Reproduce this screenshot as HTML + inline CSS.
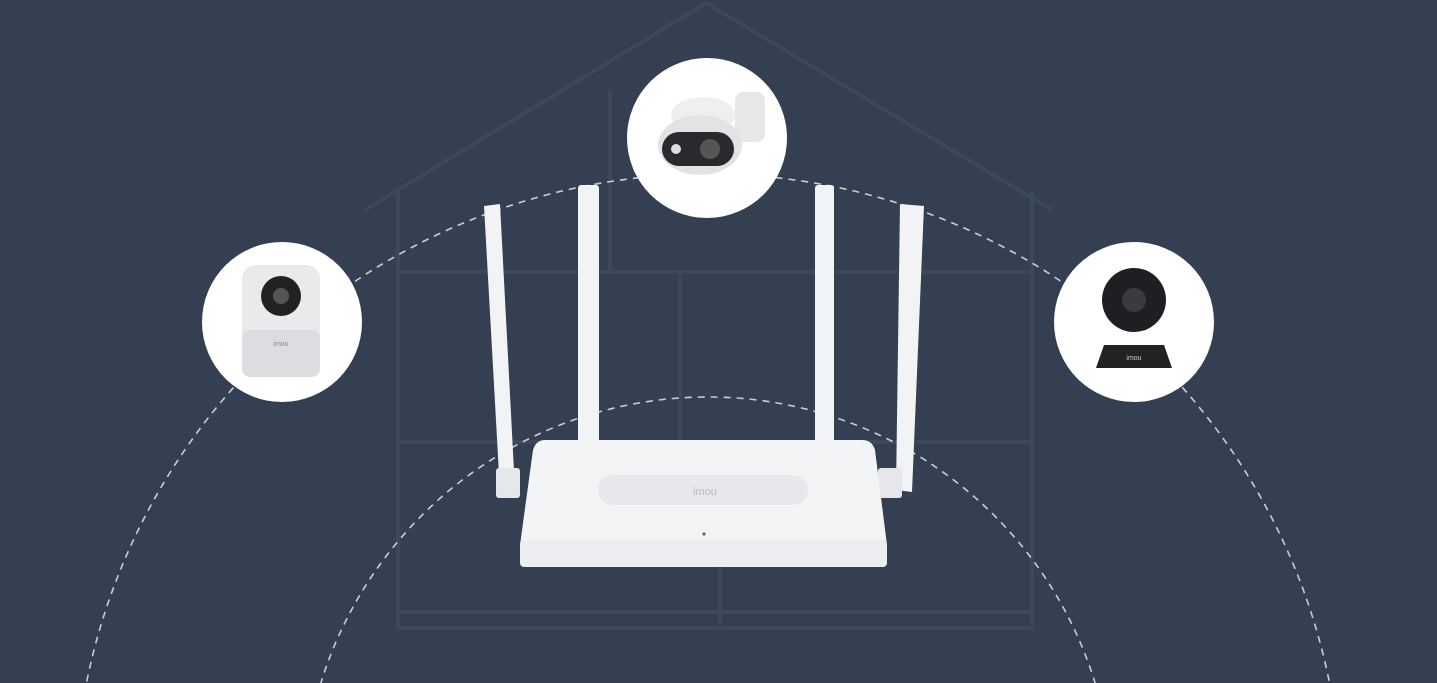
<!DOCTYPE html>
<html><head><meta charset="utf-8"><style>
html,body{margin:0;padding:0;background:#343f51;width:1437px;height:683px;overflow:hidden;}
svg{display:block}
</style></head><body>
<svg width="1437" height="683" viewBox="0 0 1437 683" xmlns="http://www.w3.org/2000/svg">
<rect width="1437" height="683" fill="#343f51"/>
<g stroke="#3c485c" stroke-width="4" fill="none">
<polyline points="365,210 706,3 1052,210"/>
<line x1="398" y1="190" x2="398" y2="630"/>
<line x1="1032" y1="190" x2="1032" y2="630"/>
<line x1="398" y1="628" x2="1032" y2="628"/>
<line x1="398" y1="272" x2="1032" y2="272"/>
<line x1="398" y1="442" x2="1032" y2="442"/>
<line x1="610" y1="90" x2="610" y2="272"/>
<line x1="680" y1="272" x2="680" y2="442"/>
<line x1="720" y1="442" x2="720" y2="628"/>
<line x1="398" y1="612" x2="1032" y2="612"/>
</g>
<g stroke="#c9ced6" stroke-width="1.6" fill="none" stroke-dasharray="7,6">
<circle cx="708" cy="808" r="634"/>
<circle cx="708" cy="802" r="405"/>
</g>
<circle cx="282" cy="322" r="80" fill="#fff"/>
<circle cx="707" cy="138" r="80" fill="#fff"/>
<circle cx="1134" cy="322" r="80" fill="#fff"/>
<rect x="242" y="265" width="78" height="112" rx="14" fill="#e9eaec"/>
<rect x="242" y="330" width="78" height="47" rx="8" fill="#dcdde0"/>
<circle cx="281" cy="296" r="20" fill="#222"/>
<circle cx="281" cy="296" r="8" fill="#555"/>
<text x="281" y="346" font-family="Liberation Sans,sans-serif" font-size="7" fill="#888" text-anchor="middle">imou</text>
<rect x="735" y="92" width="30" height="50" rx="8" fill="#e6e7e9"/>
<ellipse cx="703" cy="115" rx="32" ry="18" fill="#eeeff0"/>
<ellipse cx="700" cy="145" rx="42" ry="30" fill="#e2e3e5"/>
<rect x="662" y="132" width="72" height="34" rx="17" fill="#2a2a2e"/>
<circle cx="710" cy="149" r="10" fill="#555"/>
<circle cx="676" cy="149" r="5" fill="#ddd"/>
<circle cx="1134" cy="300" r="32" fill="#1e1f22"/>
<circle cx="1134" cy="300" r="12" fill="#3a3b40"/>
<path d="M1104,345 L1164,345 L1172,368 L1096,368 Z" fill="#222"/>
<text x="1134" y="360" font-family="Liberation Sans,sans-serif" font-size="7" fill="#ccc" text-anchor="middle">imou</text>
<g fill="#f2f3f5">
<polygon points="484,206 500,204 515,490 500,492"/>
<rect x="578" y="185" width="21" height="260" rx="3"/>
<rect x="815" y="185" width="19" height="260" rx="3"/>
<polygon points="900,204 924,206 912,492 896,490"/>
</g>
<rect x="496" y="468" width="24" height="30" rx="3" fill="#e6e7ea"/>
<rect x="878" y="468" width="24" height="30" rx="3" fill="#e6e7ea"/>
<path d="M545,440 L862,440 Q872,440 875,450 L887,545 L520,545 L533,450 Q536,440 545,440 Z" fill="#f3f4f6"/>
<rect x="520" y="540" width="367" height="27" rx="4" fill="#eceef1"/>
<rect x="598" y="475" width="210" height="30" rx="15" fill="#e6e8eb"/>
<text x="705" y="495" font-family="Liberation Sans,sans-serif" font-size="11" fill="#b8bcc2" text-anchor="middle">imou</text>
<circle cx="704" cy="534" r="1.5" fill="#555"/>
</svg>
</body></html>
